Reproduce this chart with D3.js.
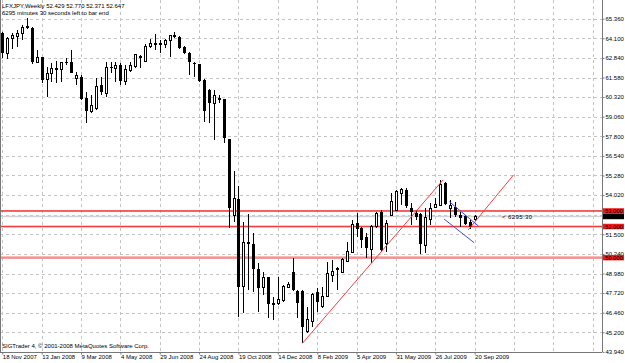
<!DOCTYPE html>
<html>
<head>
<meta charset="UTF-8">
<title>LFXJPY,Weekly</title>
<script src="https://d3js.org/d3.v7.min.js"></script>
<style>
  body { margin: 0; background: #fff; }
  svg { display: block; }
  text { font-family: "Liberation Sans", Arial, sans-serif; font-size: 6px; fill: #000; }
</style>
</head>
<body>
<svg id="chart" width="625" height="363"></svg>
<script>
// weekly bars, first bar = week of 18 Nov 2007
const opens = [
  64.42, 63.14, 64.07, 64.21, 64.42, 64.83, 64.76, 62.56, 62.88, 61.42,
  61.85, 62.19, 62.10, 62.58, 62.59, 61.53, 61.63, 60.24, 59.39, 59.56,
  61.10, 60.56, 62.24, 62.13, 62.38, 61.35, 62.06, 62.27, 62.85, 62.64,
  63.60, 63.78, 63.67, 63.73, 63.95, 64.23, 64.20, 63.56, 63.14, 62.49,
  62.43, 61.42, 60.78, 59.92, 60.15, 60.18, 57.61, 52.74, 53.77, 48.13,
  51.02, 50.87, 49.27, 48.09, 48.73, 47.03, 47.08, 47.25, 48.09, 49.09,
  47.87, 47.87, 45.24, 45.88, 47.81, 46.85, 47.53, 48.82, 49.24, 49.03,
  49.74, 50.32, 52.21, 51.88, 51.34, 50.54, 51.99, 52.95, 50.92, 52.74,
  53.06, 54.13, 54.38, 53.22, 52.89, 52.80, 50.81, 52.42, 53.22, 53.38,
  54.83, 53.17, 53.27, 52.77, 52.67, 52.26, 52.429
];
const highs = [
  64.52, 64.20, 64.42, 64.63, 64.95, 65.42, 64.83, 63.35, 62.90, 62.26,
  62.53, 62.64, 62.59, 62.86, 63.32, 61.95, 61.71, 60.67, 60.46, 61.53,
  61.61, 62.56, 62.56, 62.56, 62.53, 62.38, 62.59, 63.09, 63.03, 63.71,
  64.06, 64.36, 63.99, 64.04, 64.31, 64.49, 64.27, 63.60, 63.19, 62.56,
  62.48, 61.48, 60.84, 60.78, 60.46, 60.23, 57.63, 55.57, 54.62, 52.31,
  52.80, 51.56, 49.63, 49.09, 48.78, 47.47, 48.78, 48.24, 48.45, 49.96,
  47.92, 47.92, 46.85, 47.74, 48.03, 48.13, 49.74, 49.85, 49.42, 50.00,
  51.02, 52.42, 52.85, 51.95, 51.56, 52.10, 52.93, 53.06, 52.42, 54.13,
  54.35, 54.48, 54.45, 53.51, 53.06, 52.87, 53.19, 53.51, 53.83, 54.96,
  54.89, 53.71, 53.58, 52.93, 52.74, 52.42, 52.770
];
const lows = [
  62.81, 62.77, 63.41, 63.56, 63.99, 64.73, 62.45, 62.51, 61.21, 60.35,
  61.29, 61.21, 61.31, 62.38, 61.85, 61.10, 60.13, 58.63, 59.30, 59.49,
  60.46, 60.35, 61.87, 61.31, 61.10, 61.10, 61.93, 62.17, 62.17, 62.59,
  63.46, 63.35, 63.14, 63.46, 62.92, 64.10, 63.41, 63.07, 61.74, 61.63,
  61.29, 58.74, 58.66, 57.56, 59.92, 57.35, 51.90, 52.31, 46.20, 46.42,
  47.92, 47.81, 46.53, 47.60, 46.12, 45.99, 46.95, 47.16, 48.03, 47.87,
  46.10, 44.49, 45.13, 45.56, 46.53, 46.74, 47.49, 48.45, 47.92, 48.99,
  49.70, 50.28, 51.30, 50.60, 49.98, 49.63, 51.90, 50.36, 50.38, 52.67,
  53.00, 53.38, 53.17, 52.10, 52.42, 50.23, 50.33, 52.10, 53.19, 53.32,
  53.38, 52.53, 52.64, 51.99, 52.10, 51.84, 52.371
];
const closes = [
  63.14, 64.10, 64.27, 64.41, 64.81, 64.87, 62.58, 62.86, 61.42, 61.85,
  62.19, 62.06, 62.53, 62.52, 61.90, 61.68, 60.20, 59.42, 59.81, 61.03,
  60.63, 62.24, 62.17, 62.38, 61.37, 62.11, 62.32, 63.03, 62.90, 63.60,
  63.78, 63.70, 63.78, 63.95, 64.25, 64.27, 63.46, 63.14, 62.56, 62.43,
  61.35, 59.42, 59.92, 60.41, 60.20, 57.67, 53.17, 53.77, 48.13, 50.96,
  50.87, 49.27, 48.05, 48.73, 47.03, 47.08, 47.28, 48.14, 48.30, 47.92,
  47.06, 45.56, 46.04, 47.64, 47.12, 47.49, 48.99, 49.14, 49.29, 49.85,
  50.38, 52.10, 51.82, 51.13, 50.60, 52.03, 52.85, 50.49, 52.21, 53.59,
  54.24, 54.41, 53.32, 52.93, 52.63, 50.87, 52.58, 53.13, 53.42, 54.73,
  53.45, 53.35, 52.71, 52.58, 52.16, 51.99, 52.647
];

const dateLabels = ["18 Nov 2007", "13 Jan 2008", "9 Mar 2008", "4 May 2008", "29 Jun 2008",
  "24 Aug 2008", "19 Oct 2008", "14 Dec 2008", "8 Feb 2009", "5 Apr 2009",
  "31 May 2009", "26 Jul 2009", "20 Sep 2009"];
const labelEvery = 8; // bars between date labels

const priceTicks = [43.94, 45.20, 46.46, 47.72, 48.98, 50.24, 51.50, 52.76, 54.02,
  55.28, 56.54, 57.80, 59.06, 60.32, 61.58, 62.84, 64.10, 65.36];

// horizontal levels drawn on the chart
const levels = [53.0, 52.0, 50.0];
const bid = 52.647;

// trend lines: [barIndex, price] pairs
const redLines = [
  [[61, 44.49], [89.6, 55.00]],
  [[94.7, 51.78], [103.9, 55.31]]
];
const blueLines = [
  [[90.85, 53.60], [96.75, 52.04]],
  [[89.8, 52.48], [95.9, 50.96]]
];
const timeLeft = "6295:30";

const svg = d3.select("#chart");
const right = 602, bottom = 352;

const x = d3.scaleLinear().domain([0, 96]).range([2.3, 474.6]);
const y = d3.scaleLinear().domain([43.94, 65.36]).range([351.9, 18.7]);
const px = v => Math.round(v) + 0.5;

// grid (vertical lines keep the label spacing into the empty right part)
const vTicks = d3.range(0, x.invert(right), labelEvery);
const grid = svg.append("g").attr("stroke", "#c4c4c4").attr("stroke-dasharray", "3,3")
  .attr("shape-rendering", "crispEdges");
grid.selectAll(".hg").data(priceTicks).enter().append("line")
  .attr("x1", 0).attr("x2", right)
  .attr("y1", d => px(y(d))).attr("y2", d => px(y(d)));
grid.selectAll(".vg").data(vTicks).enter().append("line")
  .attr("x1", d => px(x(d))).attr("x2", d => px(x(d)))
  .attr("y1", 0).attr("y2", bottom);

// horizontal levels, drawn as thin filled bands
svg.append("rect").attr("x", 0).attr("width", right)
  .attr("y", y(bid) - 0.75).attr("height", 1.5).attr("fill", "#d2d2d2");
svg.selectAll(".lvl").data(levels).enter().append("rect")
  .attr("x", 0).attr("width", right)
  .attr("y", d => d === 50 ? y(d) - 1.25 : y(d) - 0.8)
  .attr("height", d => d === 50 ? 2.5 : 1.6)
  .attr("fill", d => d === 50 ? "#f59090" : "#f23c3c");

// candles
const idx = d3.range(opens.length);
const candles = svg.append("g").attr("shape-rendering", "crispEdges");
candles.selectAll(".wick").data(idx).enter().append("line")
  .attr("x1", i => px(x(i))).attr("x2", i => px(x(i)))
  .attr("y1", i => y(highs[i])).attr("y2", i => y(lows[i]))
  .attr("stroke", "#000");
candles.selectAll(".body").data(idx).enter().append("rect")
  .attr("x", i => closes[i] >= opens[i] ? px(x(i)) - 1 : px(x(i)) - 1.5)
  .attr("width", i => closes[i] >= opens[i] ? 2 : 3)
  .attr("y", i => y(Math.max(opens[i], closes[i])))
  .attr("height", i => Math.max(1, y(Math.min(opens[i], closes[i])) - y(Math.max(opens[i], closes[i]))))
  .attr("fill", i => closes[i] >= opens[i] ? "#fff" : "#000")
  .attr("stroke", "#000")
  .attr("stroke-width", i => closes[i] >= opens[i] ? 1 : 0);

// trend lines
const seg = d => d3.line().x(p => x(p[0])).y(p => y(p[1]))(d);
svg.selectAll(".red").data(redLines).enter().append("path")
  .attr("d", seg).attr("stroke", "#f24040").attr("fill", "none");
svg.selectAll(".blue").data(blueLines).enter().append("path")
  .attr("d", seg).attr("stroke", "#4848f0").attr("fill", "none");

svg.append("text").attr("x", 502).attr("y", y(bid) + 2.2)
  .attr("fill", "#333").style("letter-spacing", "0.4px")
  .text("<   " + timeLeft);

// frame
svg.append("line").attr("x1", 0.5).attr("x2", 0.5).attr("y1", 0).attr("y2", bottom)
  .attr("stroke", "#777");

// price axis (52.760 sits under the level boxes, so its label is left out)
const yAxis = svg.append("g").attr("transform", `translate(${right + 0.5},0)`)
  .call(d3.axisRight(y).tickValues(priceTicks)
    .tickFormat(d => d === 52.76 ? "" : d3.format(".3f")(d))
    .tickSize(2).tickPadding(1).tickSizeOuter(0));
yAxis.select(".domain").attr("d", `M0,0V${bottom}`).attr("stroke", "#777");
yAxis.selectAll("text").attr("font-size", 6).attr("font-family", null).attr("dy", "0.3em");
yAxis.selectAll("line").attr("stroke", "#777");

// time axis
const xAxis = svg.append("g").attr("transform", `translate(0,${bottom + 0.5})`)
  .call(d3.axisBottom(x).tickValues(dateLabels.map((d, i) => i * labelEvery))
    .tickFormat(i => dateLabels[i / labelEvery]).tickSize(2).tickPadding(2).tickSizeOuter(0));
xAxis.select(".domain").attr("d", `M0,0H${right}`).attr("stroke", "#777");
xAxis.selectAll("text").attr("font-size", 6.5).attr("font-family", null)
  .attr("text-anchor", "start").attr("dy", "0.45em");
xAxis.selectAll("line").attr("stroke", "#777");

// price boxes
const boxes = levels.map(v => ({v, c: "#f01a1a"})).concat([{v: bid, c: "#000"}]);
const box = svg.selectAll(".box").data(boxes).enter().append("g")
  .attr("transform", d => `translate(${right + 1},${d.v === bid ? y(53) + 5.5 : y(d.v)})`);
box.append("rect").attr("x", 0).attr("y", -2.75).attr("width", 21).attr("height", 5.5)
  .attr("fill", d => d.c);
box.append("text").attr("x", 2).attr("y", 2.1).attr("fill", "#fff")
  .style("font-size", "5.8px")
  .text(d => d.v.toFixed(3));

// header
const last = opens.length - 1;
svg.append("text").attr("x", 2).attr("y", 7.5)
  .text("LFXJPY,Weekly  " + [opens[last], highs[last], lows[last], closes[last]].map(v => v.toFixed(3)).join(" "));
svg.append("text").attr("x", 2).attr("y", 14.5)
  .text("6295 minutes 30 seconds left to bar end");
svg.append("text").attr("x", 2).attr("y", 348)
  .text("SIGTrader 4, \u00a9 2001-2008 MetaQuotes Software Corp.");
</script>
</body>
</html>
